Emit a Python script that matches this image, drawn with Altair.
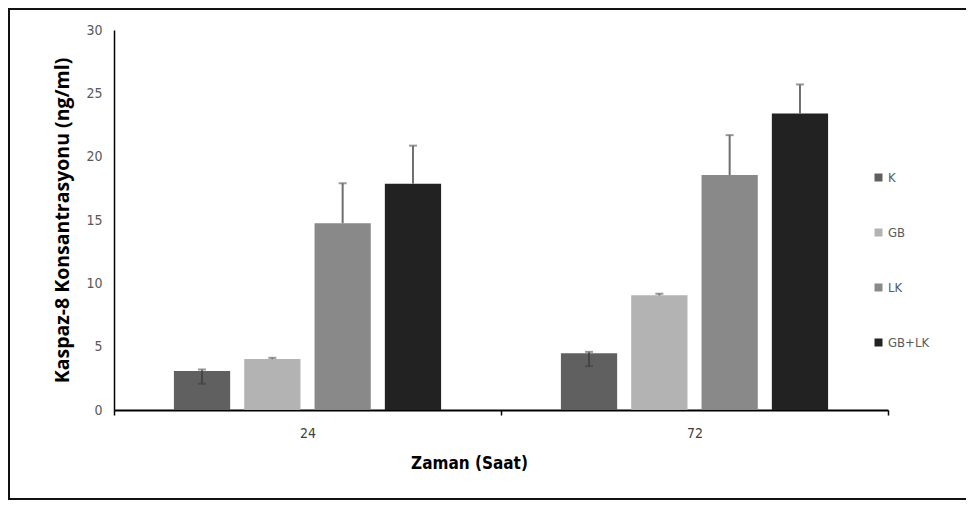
import altair as alt
import pandas as pd

groups = ["24", "72"]
series = ["K", "GB", "LK", "GB+LK"]
colors = ["#606060", "#b3b3b3", "#898989", "#222222"]

values_24 = [3.07, 4.02, 14.75, 17.87]
values_72 = [4.49, 9.05, 18.55, 23.40]
err_up_24 = [0.13, 0.10, 3.15, 3.00]
err_up_72 = [0.10, 0.13, 3.15, 2.30]
err_lo_24 = [1.00, 0.0, 0.0, 0.0]
err_lo_72 = [1.03, 0.0, 0.0, 0.0]

y_ticks = [0, 5, 10, 15, 20, 25, 30]

rows = []
for g, vals, ups, los in [("24", values_24, err_up_24, err_lo_24),
                          ("72", values_72, err_up_72, err_lo_72)]:
    for s, v, u, l in zip(series, vals, ups, los):
        rows.append({"group": g, "series": s, "value": v,
                     "upper": v + u, "lower": v - l, "lo": l})
df = pd.DataFrame(rows)

LABEL_FONT = "Liberation Sans Narrow, DejaVu Sans Condensed, Liberation Sans, sans-serif"

x_enc = alt.X("group:N", sort=groups,
              scale=alt.Scale(paddingInner=0, paddingOuter=0),
              axis=alt.Axis(title="Zaman (Saat)", labelAngle=0,
                            domainColor="black", domainWidth=2,
                            ticks=True, tickBand="extent", tickSize=5,
                            tickColor="black", tickWidth=1.5,
                            labelPadding=11, labelFontSize=14,
                            labelColor="#404040", labelFont=LABEL_FONT,
                            titleFont=LABEL_FONT, titleFontSize=17,
                            titleFontWeight="bold", titleColor="black",
                            titleX=355, titleY=53, titleBaseline="middle",
                            grid=False))
xo_enc = alt.XOffset("series:N", sort=series,
                     scale=alt.Scale(paddingInner=0.2, paddingOuter=0.852))

y_axis = alt.Axis(title="Kaspaz-8 Konsantrasyonu (ng/ml)", values=y_ticks,
                  domainColor="black", domainWidth=1.5, ticks=False,
                  grid=False, labelColor="#595959", labelFont=LABEL_FONT,
                  labelFontSize=14, labelPadding=12,
                  titleFont="Open Sans", titleFontSize=19.5,
                  titleFontWeight="bold", titleColor="black", titlePadding=13)

base = alt.Chart(df)

bars = base.mark_bar().encode(
    x=x_enc,
    xOffset=xo_enc,
    y=alt.Y("value:Q", scale=alt.Scale(domain=[0, 30], nice=False), axis=y_axis),
    color=alt.Color("series:N", sort=series,
                    scale=alt.Scale(domain=series, range=colors),
                    legend=alt.Legend(title=None, orient="none",
                                      legendX=758, legendY=141,
                                      symbolType="square", symbolSize=64,
                                      symbolStrokeWidth=0, rowPadding=41,
                                      labelFontSize=13, labelColor="#595959",
                                      labelFont=LABEL_FONT, labelOffset=3)),
)

err_up = base.mark_rule(color="#6e6e6e", strokeWidth=2).encode(
    x=x_enc, xOffset=xo_enc, y="value:Q", y2="upper:Q")
cap_up = base.mark_tick(color="#6e6e6e", size=8, thickness=2).encode(
    x=x_enc, xOffset=xo_enc, y="upper:Q")

low = base.transform_filter(alt.datum.lo > 0)
err_lo = low.mark_rule(color="#454545", strokeWidth=2).encode(
    x=x_enc, xOffset=xo_enc, y="lower:Q", y2="value:Q")
cap_lo = low.mark_tick(color="#454545", size=8, thickness=2).encode(
    x=x_enc, xOffset=xo_enc, y="lower:Q")

# decorative frame around the figure; its right edge lies beyond the page
frame = alt.Chart(pd.DataFrame({"f": [0]})).mark_rect(
    fill=None, stroke="#111111", strokeWidth=2).encode(
    x=alt.value(-105), x2=alt.value(1400), y=alt.value(-21), y2=alt.value(469))

chart = alt.layer(frame, bars, err_up, cap_up, err_lo, cap_lo).properties(
    width=774, height=380,
    autosize=alt.AutoSizeParams(type="none"),
    padding={"left": 106, "top": 22, "right": 78, "bottom": 91},
).configure_view(stroke=None)

chart.save("out.html", embed_options={"renderer": "svg", "actions": False})
